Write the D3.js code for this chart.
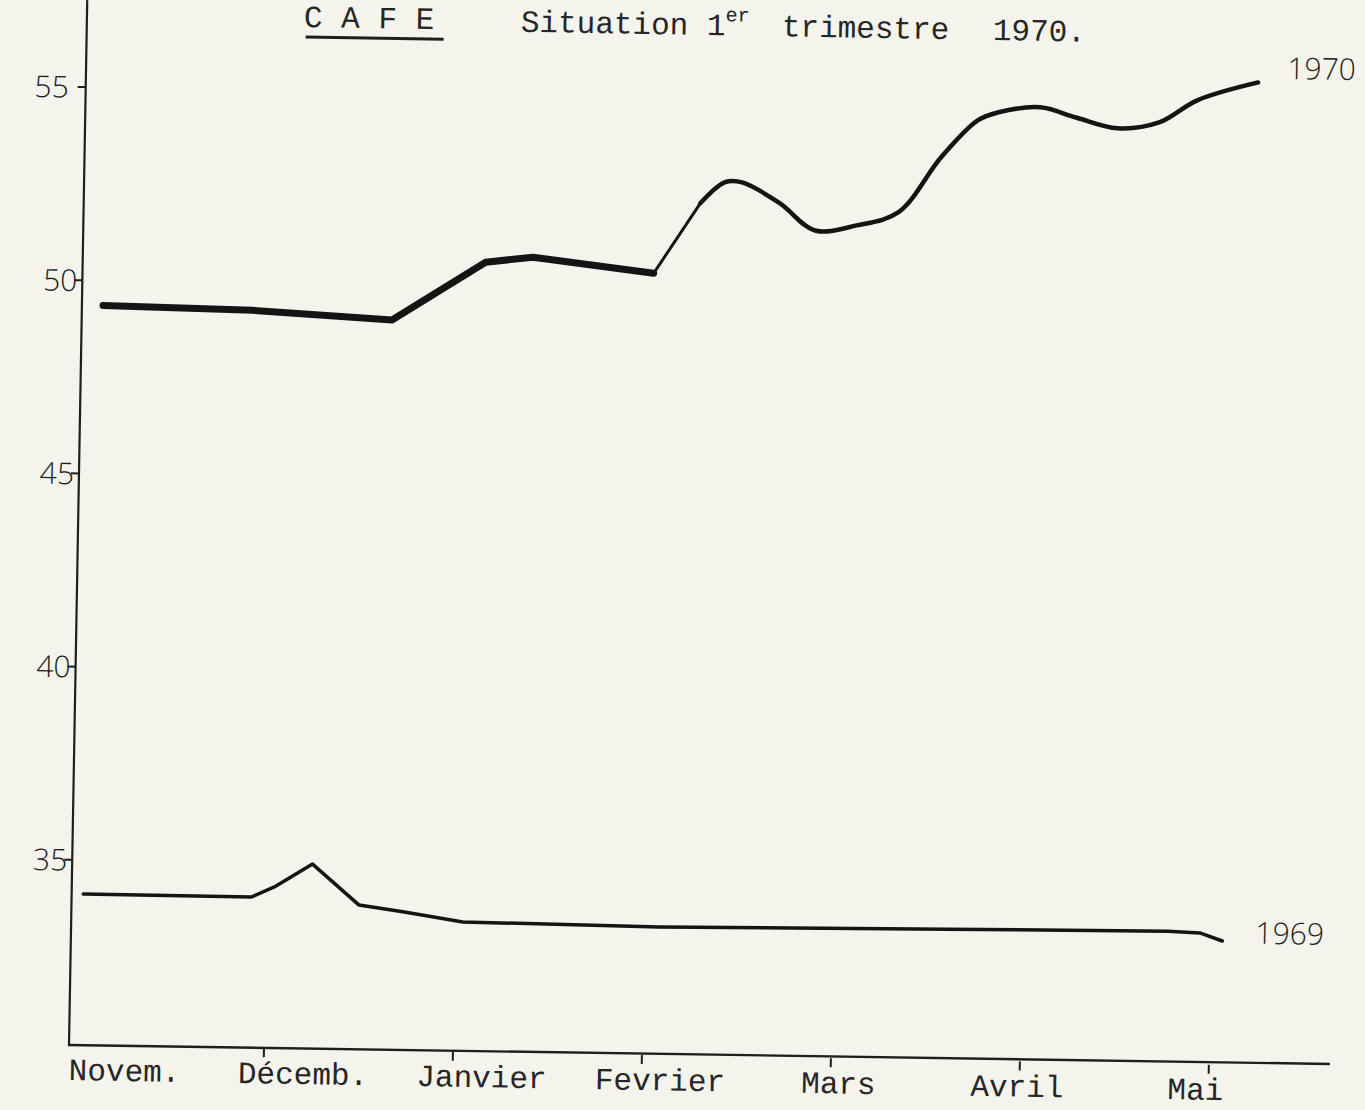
<!DOCTYPE html>
<html>
<head>
<meta charset="utf-8">
<script src="https://cdn.jsdelivr.net/npm/d3@7"></script>
<style>
body { margin: 0; background: #f4f4ed; }
svg { display: block; }
.typed { font-family: "Liberation Mono", "DejaVu Sans Mono", monospace; font-size: 31px; fill: #262626; }
.lettered { font-family: "Open Sans", "Noto Sans", "DejaVu Sans", sans-serif; font-weight: 300; font-size: 30px; fill: #1f1f1f; }
</style>
</head>
<body>
<svg id="chart"></svg>
<script>
var months = ["Novem.", "Décemb.", "Janvier", "Fevrier", "Mars", "Avril", "Mai"];
var yTicks = [35, 40, 45, 50, 55];
var yTickLabels = ["35", "40", "45", "50", "55"];

// position along the month axis (0 = Novem. ... 6 = Mai) and value
var pos1970 = [0.08, 0.87, 1.61, 2.10, 2.35, 2.99, 3.23, 3.36, 3.45, 3.65, 3.84, 4.06, 4.28, 4.50, 4.69, 4.80, 5.02, 5.21, 5.43, 5.65, 5.85, 6.17];
var val1970 = [49.36, 49.30, 49.11, 50.65, 50.80, 50.44, 52.27, 52.83, 52.83, 52.31, 51.62, 51.77, 52.13, 53.57, 54.54, 54.76, 54.91, 54.66, 54.40, 54.57, 55.16, 55.65];
var pos1969 = [0.03, 0.92, 1.04, 1.24, 1.49, 1.73, 2.04, 3.08, 4.60, 5.77, 5.94, 6.06];
var val1969 = [34.12, 34.12, 34.39, 35.00, 33.96, 33.80, 33.57, 33.53, 33.60, 33.65, 33.62, 33.42];

var width = 1365, height = 1110;

var svg = d3.select("#chart")
    .attr("width", width)
    .attr("height", height);

svg.append("rect")
    .attr("width", width)
    .attr("height", height)
    .attr("fill", "#f4f4ed");

// the sheet sits slightly tilted on the scan, so the whole drawing is turned by 1 degree
var g = svg.append("g")
    .attr("transform", "translate(72,1045) rotate(1)");

var x = d3.scaleLinear().domain([0, 6]).range([3, 1137]);
var xLab = d3.scalePoint().domain(months).range([53, 1124]);
var y = d3.scaleLinear().domain([30.21, 55]).range([0, -958]);

var data1970 = pos1970.map(function(p, i) { return {p: p, v: val1970[i]}; });
var data1969 = pos1969.map(function(p, i) { return {p: p, v: val1969[i]}; });

// axes
g.append("line")
    .attr("x1", -3).attr("y1", 0)
    .attr("x2", -3).attr("y2", -1045)
    .attr("stroke", "#1e1e1e")
    .attr("stroke-width", 2.2);
g.append("line")
    .attr("x1", -4).attr("y1", 0)
    .attr("x2", 1258).attr("y2", -3)
    .attr("stroke", "#1e1e1e")
    .attr("stroke-width", 2.4);

g.selectAll(".ytick")
    .data(yTicks)
    .enter().append("line")
    .attr("x1", -11).attr("x2", -3)
    .attr("y1", function(d) { return y(d); })
    .attr("y2", function(d) { return y(d); })
    .attr("stroke", "#1e1e1e")
    .attr("stroke-width", 2);

g.selectAll(".ylab")
    .data(yTicks)
    .enter().append("text")
    .attr("class", "lettered")
    .attr("x", function(d) { return d == 55 ? -20 : -8; })
    .attr("y", function(d) { return y(d); })
    .attr("dy", "0.36em")
    .attr("text-anchor", "end")
    .text(function(d, i) { return yTickLabels[i]; });

g.selectAll(".xtick")
    .data(d3.range(1, 7))
    .enter().append("line")
    .attr("x1", function(d) { return x(d); })
    .attr("x2", function(d) { return x(d); })
    .attr("y1", 0).attr("y2", 9)
    .attr("stroke", "#1e1e1e")
    .attr("stroke-width", 2);

g.selectAll(".xlab")
    .data(months)
    .enter().append("text")
    .attr("class", "typed")
    .attr("x", function(d) { return xLab(d); })
    .attr("y", 35)
    .attr("text-anchor", "middle")
    .text(function(d) { return d; });

// title
g.append("text")
    .attr("class", "typed")
    .attr("x", 214).attr("y", -1022)
    .text("C A F E");
g.append("line")
    .attr("x1", 216).attr("y1", -1012)
    .attr("x2", 354).attr("y2", -1012)
    .attr("stroke", "#1e1e1e")
    .attr("stroke-width", 3);
var t = g.append("text")
    .attr("class", "typed")
    .attr("x", 431).attr("y", -1021);
t.append("tspan").text("Situation 1");
t.append("tspan").attr("dy", -14).style("font-size", "20px").text("er");
t.append("tspan").attr("x", 692).attr("dy", 14).text("trimestre");
t.append("tspan").attr("x", 903).text("1970.");

// curves: straight strokes up to the February jump, then a smooth line
var lineStraight = d3.line()
    .x(function(d) { return x(d.p); })
    .y(function(d) { return y(d.v); });
var lineSmooth = d3.line()
    .x(function(d) { return x(d.p); })
    .y(function(d) { return y(d.v); })
    .curve(d3.curveCatmullRom.alpha(0.5));

g.append("path")
    .datum(data1970.slice(0, 6))
    .attr("fill", "none")
    .attr("stroke", "#141414")
    .attr("stroke-width", 7)
    .attr("stroke-linejoin", "round")
    .attr("stroke-linecap", "round")
    .attr("d", lineStraight);
g.append("path")
    .datum(data1970.slice(5, 7))
    .attr("fill", "none")
    .attr("stroke", "#141414")
    .attr("stroke-width", 3)
    .attr("stroke-linecap", "round")
    .attr("d", lineStraight);
g.append("path")
    .datum(data1970.slice(6))
    .attr("fill", "none")
    .attr("stroke", "#141414")
    .attr("stroke-width", 4.5)
    .attr("stroke-linejoin", "round")
    .attr("stroke-linecap", "round")
    .attr("d", lineSmooth);

g.append("path")
    .datum(data1969)
    .attr("fill", "none")
    .attr("stroke", "#141414")
    .attr("stroke-width", 3.5)
    .attr("stroke-linejoin", "round")
    .attr("stroke-linecap", "round")
    .attr("d", lineStraight);

var end70 = data1970[data1970.length - 1];
var end69 = data1969[data1969.length - 1];
g.append("text")
    .attr("class", "lettered")
    .attr("x", x(end70.p) + 29)
    .attr("y", y(end70.v) - 4)
    .text("1970");
g.append("text")
    .attr("class", "lettered")
    .attr("x", x(end69.p) + 33)
    .attr("y", y(end69.v) + 2)
    .text("1969");
</script>
</body>
</html>
